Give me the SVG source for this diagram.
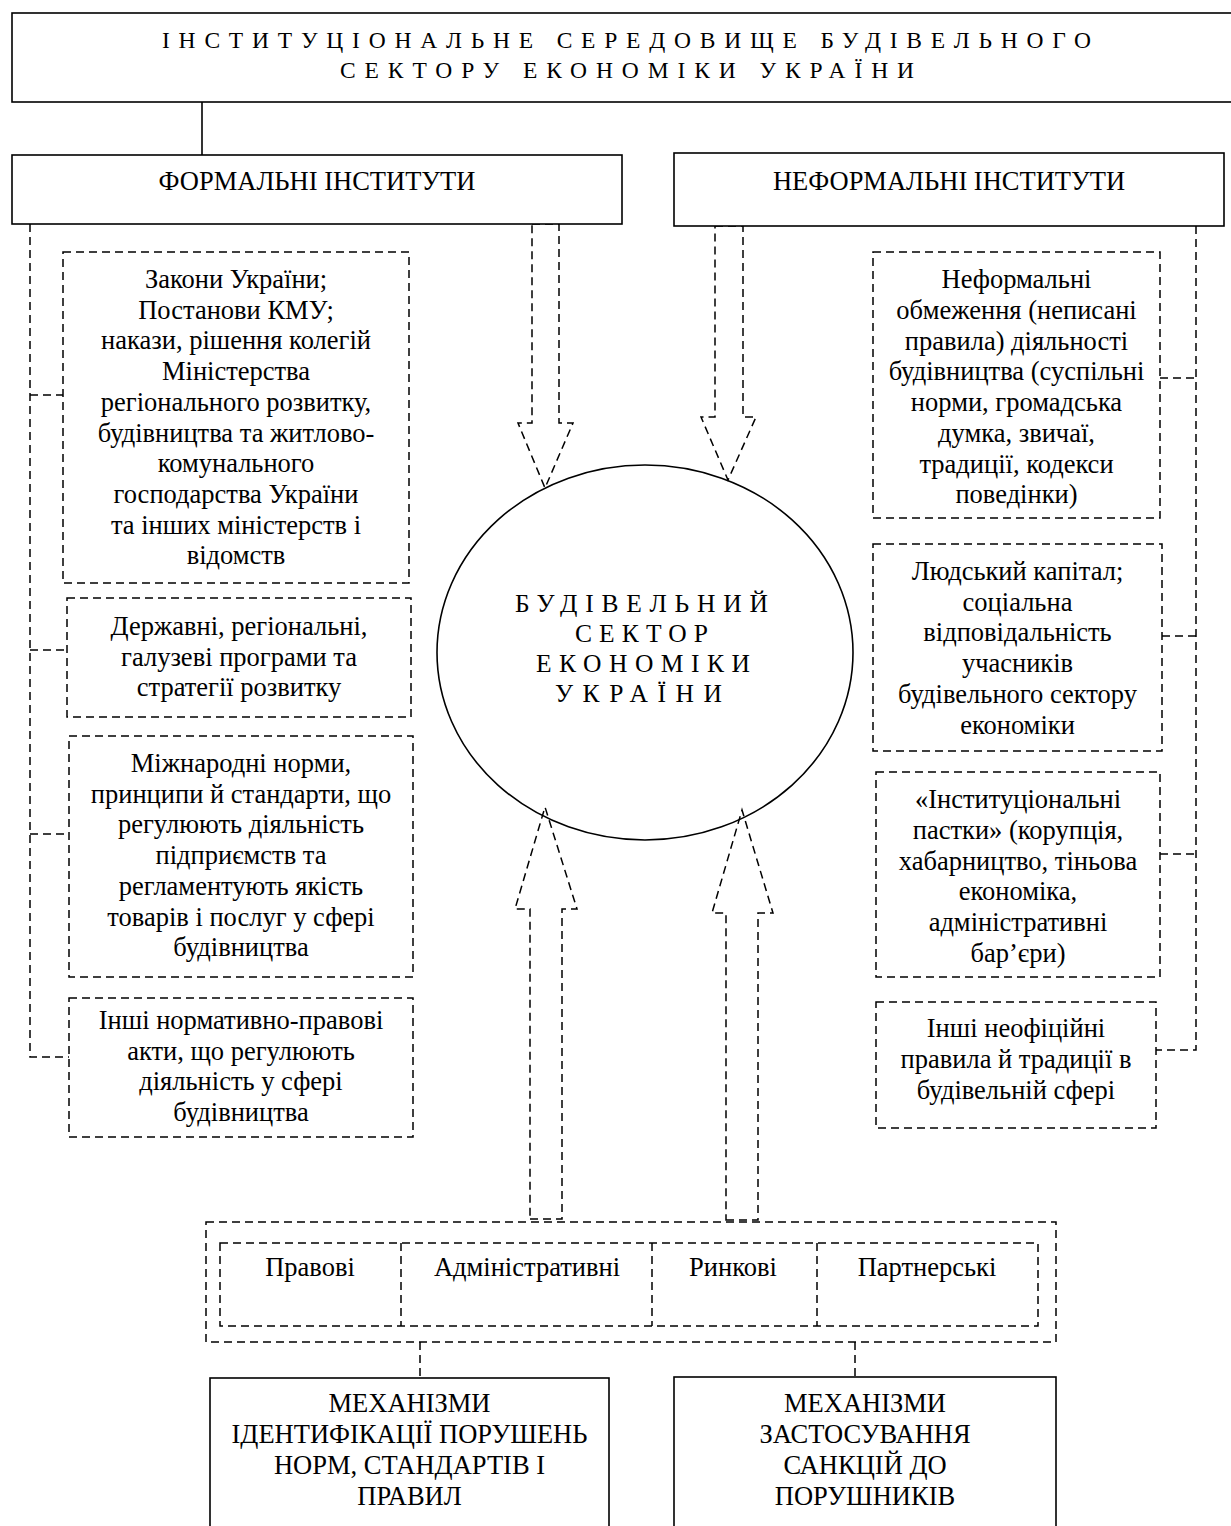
<svg xmlns="http://www.w3.org/2000/svg" width="1231" height="1526" viewBox="0 0 1231 1526">
<style>
  .solid { fill: #fff; stroke: #000; stroke-width: 1.6; }
  .dbox { fill: none; stroke: #000; stroke-width: 1.5; stroke-dasharray: 8 5; }
  .dline { fill: none; stroke: #000; stroke-width: 1.5; stroke-dasharray: 8 5; }
  .arrow { fill: none; stroke: #000; stroke-width: 1.5; stroke-dasharray: 8 5; stroke-linejoin: miter; }
  .line { fill: none; stroke: #000; stroke-width: 1.6; }
  text { font-family: "Liberation Serif", "Times New Roman", serif; fill: #000; }
  .t { font-size: 26.5px; text-anchor: middle; }
  .sp { font-size: 23.5px; }
  .cs { font-size: 25.5px; }
</style>
<rect width="1231" height="1526" fill="#fff"/>

<g id="connectors">
  <line class="line" x1="202" y1="102" x2="202" y2="155"/>
  <polyline class="dline" points="30,224 30,1057 69,1057"/>
  <line class="dline" x1="30" y1="395" x2="63" y2="395"/>
  <line class="dline" x1="30" y1="650" x2="67" y2="650"/>
  <line class="dline" x1="30" y1="834" x2="69" y2="834"/>
  <polyline class="dline" points="1196,226 1196,1050 1156,1050"/>
  <line class="dline" x1="1160" y1="378" x2="1196" y2="378"/>
  <line class="dline" x1="1162" y1="636" x2="1196" y2="636"/>
  <line class="dline" x1="1160" y1="854" x2="1196" y2="854"/>
  <polygon class="arrow" points="532,224 559,224 559,423 573,423 545,488 518,423 532,423"/>
  <polygon class="arrow" points="715,226 743,226 743,417 756,417 728,480 701,417 715,417"/>
  <polygon class="arrow" points="530,1219 562,1219 562,909 577,909 545,807 515,909 530,909"/>
  <polygon class="arrow" points="726,1220 758,1220 758,913 773,913 742,810 712,913 726,913"/>
  <line class="dline" x1="420" y1="1342" x2="420" y2="1378"/>
  <line class="dline" x1="855" y1="1342" x2="855" y2="1377"/>
</g>

<g id="top">
  <rect class="solid" x="12" y="13" width="1240" height="89"/>
  <text class="sp" x="162" y="48" textLength="929" lengthAdjust="spacing">ІНСТИТУЦІОНАЛЬНЕ  СЕРЕДОВИЩЕ  БУДІВЕЛЬНОГО</text>
  <text class="sp" x="340" y="78" textLength="574" lengthAdjust="spacing">СЕКТОРУ  ЕКОНОМІКИ  УКРАЇНИ</text>
</g>

<g id="formal">
  <rect class="solid" x="12" y="155" width="610" height="69"/>
  <text class="t" x="317" y="190">ФОРМАЛЬНІ ІНСТИТУТИ</text>
</g>

<g id="informal">
  <rect class="solid" x="674" y="153" width="550" height="73"/>
  <text class="t" x="949" y="190">НЕФОРМАЛЬНІ ІНСТИТУТИ</text>
</g>

<g id="sector">
  <ellipse class="line" cx="645" cy="652.5" rx="208" ry="187.5"/>
  <text class="cs" x="515" y="612" textLength="253" lengthAdjust="spacing">БУДІВЕЛЬНИЙ</text>
  <text class="cs" x="575" y="642" textLength="133" lengthAdjust="spacing">СЕКТОР</text>
  <text class="cs" x="536" y="672" textLength="214" lengthAdjust="spacing">ЕКОНОМІКИ</text>
  <text class="cs" x="555" y="702" textLength="167" lengthAdjust="spacing">УКРАЇНИ</text>
</g>

<g id="laws">
  <rect class="dbox" x="63" y="252" width="346" height="331"/>
  <text class="t" x="236" y="288">Закони України;</text>
  <text class="t" x="236" y="318.7">Постанови КМУ;</text>
  <text class="t" x="236" y="349.4">накази, рішення колегій</text>
  <text class="t" x="236" y="380.1">Міністерства</text>
  <text class="t" x="236" y="410.8">регіонального розвитку,</text>
  <text class="t" x="236" y="441.5">будівництва та житлово-</text>
  <text class="t" x="236" y="472.2">комунального</text>
  <text class="t" x="236" y="502.9">господарства України</text>
  <text class="t" x="236" y="533.6">та інших міністерств і</text>
  <text class="t" x="236" y="564.3">відомств</text>
</g>

<g id="programs">
  <rect class="dbox" x="67" y="598" width="344" height="119"/>
  <text class="t" x="239" y="635">Державні, регіональні,</text>
  <text class="t" x="239" y="665.7">галузеві програми та</text>
  <text class="t" x="239" y="696.4">стратегії розвитку</text>
</g>

<g id="international">
  <rect class="dbox" x="69" y="736" width="344" height="241"/>
  <text class="t" x="241" y="772">Міжнародні норми,</text>
  <text class="t" x="241" y="802.7">принципи й стандарти, що</text>
  <text class="t" x="241" y="833.4">регулюють діяльність</text>
  <text class="t" x="241" y="864.1">підприємств та</text>
  <text class="t" x="241" y="894.8">регламентують якість</text>
  <text class="t" x="241" y="925.5">товарів і послуг у сфері</text>
  <text class="t" x="241" y="956.2">будівництва</text>
</g>

<g id="other-acts">
  <rect class="dbox" x="69" y="998" width="344" height="139"/>
  <text class="t" x="241" y="1029">Інші нормативно-правові</text>
  <text class="t" x="241" y="1059.7">акти, що регулюють</text>
  <text class="t" x="241" y="1090.4">діяльність у сфері</text>
  <text class="t" x="241" y="1121.1">будівництва</text>
</g>

<g id="informal-limits">
  <rect class="dbox" x="873" y="252" width="287" height="266"/>
  <text class="t" x="1016.5" y="288.3">Неформальні</text>
  <text class="t" x="1016.5" y="319">обмеження (неписані</text>
  <text class="t" x="1016.5" y="349.7">правила) діяльності</text>
  <text class="t" x="1016.5" y="380.4">будівництва (суспільні</text>
  <text class="t" x="1016.5" y="411.1">норми, громадська</text>
  <text class="t" x="1016.5" y="441.8">думка, звичаї,</text>
  <text class="t" x="1016.5" y="472.5">традиції, кодекси</text>
  <text class="t" x="1016.5" y="503.2">поведінки)</text>
</g>

<g id="human-capital">
  <rect class="dbox" x="873" y="544" width="289" height="207"/>
  <text class="t" x="1017.5" y="580">Людський капітал;</text>
  <text class="t" x="1017.5" y="610.7">соціальна</text>
  <text class="t" x="1017.5" y="641.4">відповідальність</text>
  <text class="t" x="1017.5" y="672.1">учасників</text>
  <text class="t" x="1017.5" y="702.8">будівельного сектору</text>
  <text class="t" x="1017.5" y="733.5">економіки</text>
</g>

<g id="traps">
  <rect class="dbox" x="876" y="772" width="284" height="205"/>
  <text class="t" x="1018" y="808.3">«Інституціональні</text>
  <text class="t" x="1018" y="839">пастки» (корупція,</text>
  <text class="t" x="1018" y="869.7">хабарництво, тіньова</text>
  <text class="t" x="1018" y="900.4">економіка,</text>
  <text class="t" x="1018" y="931.1">адміністративні</text>
  <text class="t" x="1018" y="961.8">бар’єри)</text>
</g>

<g id="other-rules">
  <rect class="dbox" x="876" y="1002" width="280" height="126"/>
  <text class="t" x="1016" y="1037.3">Інші неофіційні</text>
  <text class="t" x="1016" y="1068">правила й традиції в</text>
  <text class="t" x="1016" y="1098.7">будівельній сфері</text>
</g>

<g id="mechanisms">
  <rect class="dbox" x="206" y="1222" width="850" height="120"/>
  <rect class="dbox" x="220" y="1243" width="818" height="83"/>
  <line class="dline" x1="401" y1="1243" x2="401" y2="1326"/>
  <line class="dline" x1="652" y1="1243" x2="652" y2="1326"/>
  <line class="dline" x1="817" y1="1243" x2="817" y2="1326"/>
  <text class="t" x="310" y="1276">Правові</text>
  <text class="t" x="527" y="1276">Адміністративні</text>
  <text class="t" x="733" y="1276">Ринкові</text>
  <text class="t" x="927" y="1276">Партнерські</text>
</g>

<g id="identification">
  <rect class="solid" x="210" y="1378" width="399" height="160"/>
  <text class="t" x="409.5" y="1412">МЕХАНІЗМИ</text>
  <text class="t" x="409.5" y="1443">ІДЕНТИФІКАЦІЇ ПОРУШЕНЬ</text>
  <text class="t" x="409.5" y="1474">НОРМ, СТАНДАРТІВ І</text>
  <text class="t" x="409.5" y="1505">ПРАВИЛ</text>
</g>

<g id="sanctions">
  <rect class="solid" x="674" y="1377" width="382" height="160"/>
  <text class="t" x="865" y="1412">МЕХАНІЗМИ</text>
  <text class="t" x="865" y="1443">ЗАСТОСУВАННЯ</text>
  <text class="t" x="865" y="1474">САНКЦІЙ ДО</text>
  <text class="t" x="865" y="1505">ПОРУШНИКІВ</text>
</g>
</svg>
